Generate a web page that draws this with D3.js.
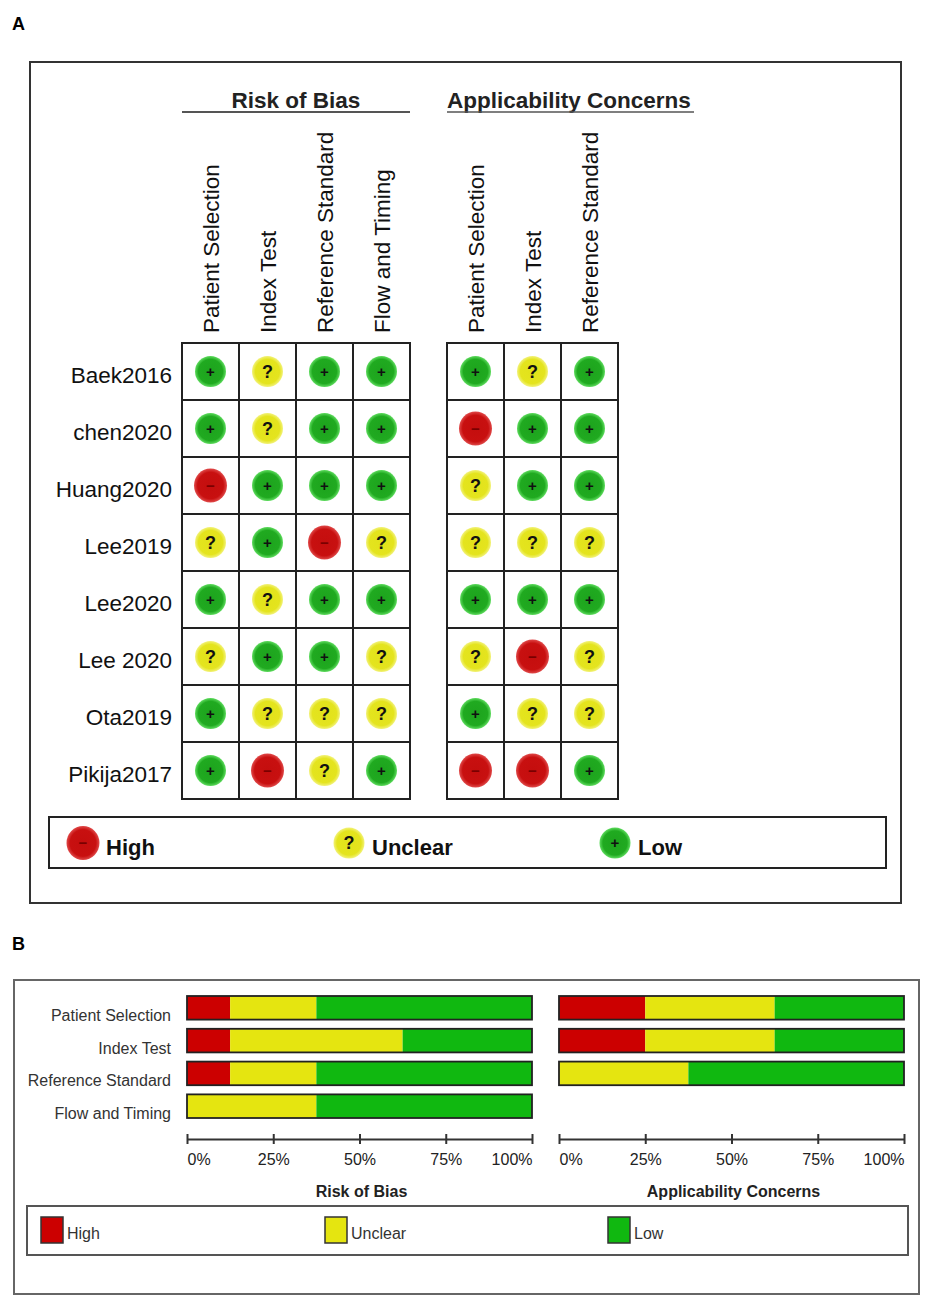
<!DOCTYPE html>
<html>
<head>
<meta charset="utf-8">
<script src="https://cdn.jsdelivr.net/npm/d3@7"></script>
<style>
  body { margin: 0; background: #fff; }
  svg { display: block; font-family: "Liberation Sans", Arial, sans-serif; }
</style>
</head>
<body>
<div id="chart"></div>
<script>
// studies and domains
var studies = ['Baek2016', 'chen2020', 'Huang2020', 'Lee2019', 'Lee2020', 'Lee 2020', 'Ota2019', 'Pikija2017'];
var robDomains = ['Patient Selection', 'Index Test', 'Reference Standard', 'Flow and Timing'];
var acDomains = ['Patient Selection', 'Index Test', 'Reference Standard'];

// judgements per study (H = high, U = unclear, L = low)
var robJudge = [
  ['L', 'U', 'L', 'L'],
  ['L', 'U', 'L', 'L'],
  ['H', 'L', 'L', 'L'],
  ['U', 'L', 'H', 'U'],
  ['L', 'U', 'L', 'L'],
  ['U', 'L', 'L', 'U'],
  ['L', 'U', 'U', 'U'],
  ['L', 'H', 'U', 'L']
];
var acJudge = [
  ['L', 'U', 'L'],
  ['H', 'L', 'L'],
  ['U', 'L', 'L'],
  ['U', 'U', 'U'],
  ['L', 'L', 'L'],
  ['U', 'H', 'U'],
  ['L', 'U', 'U'],
  ['H', 'H', 'L']
];

// summary percentages (panel B)
var robHigh = [12.5, 12.5, 12.5, 0];
var robUnclear = [25, 50, 25, 37.5];
var robLow = [62.5, 37.5, 62.5, 62.5];
var acHigh = [25, 25, 0];
var acUnclear = [37.5, 37.5, 37.5];
var acLow = [37.5, 37.5, 62.5];
var pctTicks = [0, 25, 50, 75, 100];
var levels = ['High', 'Unclear', 'Low'];

var W = 935, H = 1310;
var FONT = '"Liberation Sans", Arial, sans-serif';

var svg = d3.select('#chart').append('svg')
  .attr('width', W).attr('height', H);

// gradients for the dots
var defs = svg.append('defs');
var dotCol = {
  H: ['#c40e0e', '#c81010', '#e04a4a'],
  U: ['#e2e21a', '#e4e41e', '#f2f27a'],
  L: ['#1da31d', '#20aa20', '#5fdc5f']
};
Object.keys(dotCol).forEach(function(k){
  var g = defs.append('radialGradient').attr('id', 'dot' + k);
  g.append('stop').attr('offset', '0%').attr('stop-color', dotCol[k][0]);
  g.append('stop').attr('offset', '78%').attr('stop-color', dotCol[k][1]);
  g.append('stop').attr('offset', '100%').attr('stop-color', dotCol[k][2]);
});
var sym = { H: '\u2212', U: '?', L: '+' };

var drawDot = function(sel, k, cx, cy){
  sel.append('ellipse')
    .attr('cx', cx).attr('cy', cy)
    .attr('rx', k == 'H' ? 16.5 : 15.5)
    .attr('ry', k == 'H' ? 17 : 15.5)
    .attr('fill', 'url(#dot' + k + ')');
  sel.append('text')
    .attr('x', cx).attr('y', cy + (k == 'U' ? 6 : 5))
    .attr('text-anchor', 'middle')
    .attr('font-weight', 'bold')
    .attr('font-size', k == 'U' ? 18 : 15)
    .attr('fill', k == 'H' ? '#7a0000' : '#111')
    .text(sym[k]);
};

// ---------- Panel A ----------
svg.append('text').attr('x', 12).attr('y', 30)
  .attr('font-size', 18).attr('font-weight', 'bold').text('A');
svg.append('rect').attr('x', 30).attr('y', 62).attr('width', 871).attr('height', 841)
  .attr('fill', 'none').attr('stroke', '#333').attr('stroke-width', 2);

var yRow = d3.scaleBand().domain(studies).range([343, 799]);
var xRob = d3.scaleBand().domain(robDomains).range([182, 410]);
var xAc = d3.scaleBand().domain(acDomains).range([447, 618]);

var gridA = function(xs, domains, judge, title, underlineLine){
  var g = svg.append('g');
  var x0 = xs.range()[0], x1 = xs.range()[1];
  var cx = (x0 + x1) / 2;
  if(underlineLine){
    g.append('text').attr('x', cx).attr('y', 108)
      .attr('text-anchor', 'middle').attr('font-size', 22.5).attr('font-weight', 'bold')
      .attr('fill', '#222').text(title);
    g.append('line').attr('x1', x0).attr('x2', x1).attr('y1', 112).attr('y2', 112)
      .attr('stroke', '#555').attr('stroke-width', 2);
  } else {
    var t = g.append('text').attr('x', x0).attr('y', 108)
      .attr('font-size', 22.5).attr('font-weight', 'bold')
      .attr('fill', '#222').text(title);
    g.append('line').attr('x1', x0).attr('x2', x0 + 247).attr('y1', 112).attr('y2', 112)
      .attr('stroke', '#555').attr('stroke-width', 1.6);
  }
  // column headers
  g.selectAll('.colh').data(domains).enter().append('text')
    .attr('transform', function(d){
      return 'translate(' + (xs(d) + xs.bandwidth() / 2 + 8) + ',333) rotate(-90)';
    })
    .attr('font-size', 22.5).attr('fill', '#111')
    .text(function(d){ return d; });
  // dots
  studies.forEach(function(s, i){
    domains.forEach(function(d, j){
      drawDot(g, judge[i][j], xs(d) + xs.bandwidth() / 2, yRow(s) + yRow.bandwidth() / 2);
    });
  });
  // grid lines
  var yr = yRow.range();
  var vx = domains.map(function(d){ return xs(d); }).concat([x1]);
  g.selectAll('.vl').data(vx).enter().append('line')
    .attr('x1', function(d){ return d; }).attr('x2', function(d){ return d; })
    .attr('y1', yr[0]).attr('y2', yr[1])
    .attr('stroke', '#222').attr('stroke-width', 2);
  var hy = studies.map(function(s){ return yRow(s); }).concat([yr[1]]);
  g.selectAll('.hl').data(hy).enter().append('line')
    .attr('x1', x0 - 1).attr('x2', x1 + 1)
    .attr('y1', function(d){ return d; }).attr('y2', function(d){ return d; })
    .attr('stroke', '#222').attr('stroke-width', 2);
};
gridA(xRob, robDomains, robJudge, 'Risk of Bias', true);
gridA(xAc, acDomains, acJudge, 'Applicability Concerns', false);

// row labels
svg.selectAll('.rowl').data(studies).enter().append('text')
  .attr('x', 172)
  .attr('y', function(d){ return yRow(d) + yRow.bandwidth() / 2 + 11; })
  .attr('text-anchor', 'end').attr('font-size', 22.5).attr('fill', '#111')
  .text(function(d){ return d; });

// legend A
svg.append('rect').attr('x', 49).attr('y', 817).attr('width', 837).attr('height', 51)
  .attr('fill', 'none').attr('stroke', '#222').attr('stroke-width', 2);
var legA = [['H', 83, 'High'], ['U', 349, 'Unclear'], ['L', 615, 'Low']];
legA.forEach(function(l){
  drawDot(svg, l[0], l[1], 843);
  svg.append('text').attr('x', l[1] + 23).attr('y', 855)
    .attr('font-size', 22).attr('font-weight', 'bold').attr('fill', '#111').text(l[2]);
});

// ---------- Panel B ----------
svg.append('text').attr('x', 12).attr('y', 950)
  .attr('font-size', 18).attr('font-weight', 'bold').text('B');
svg.append('rect').attr('x', 14).attr('y', 980).attr('width', 905).attr('height', 314)
  .attr('fill', 'none').attr('stroke', '#666').attr('stroke-width', 2);

var barCol = { High: '#cc0000', Unclear: '#e5e510', Low: '#10b810' };

var summary = function(domains, hi, un, lo, xr, title){
  var rows = domains.map(function(d, i){
    return { domain: d, High: hi[i], Unclear: un[i], Low: lo[i] };
  });
  var x = d3.scaleLinear().domain([0, 100]).range(xr);
  var y = d3.scaleBand().domain(robDomains).range([996, 1118]).paddingInner(0.28).paddingOuter(0);
  var stack = d3.stack().keys(levels)(rows);
  var g = svg.append('g');
  g.selectAll('.layer').data(stack).enter().append('g')
    .attr('fill', function(d){ return barCol[d.key]; })
    .selectAll('rect').data(function(d){ return d; }).enter().append('rect')
      .attr('x', function(d){ return x(d[0]); })
      .attr('width', function(d){ return x(d[1]) - x(d[0]); })
      .attr('y', function(d){ return y(d.data.domain); })
      .attr('height', y.bandwidth());
  g.selectAll('.outline').data(rows).enter().append('rect')
    .attr('x', x(0)).attr('width', x(100) - x(0))
    .attr('y', function(d){ return y(d.domain); })
    .attr('height', y.bandwidth())
    .attr('fill', 'none').attr('stroke', '#222').attr('stroke-width', 1.8);

  var ax = g.append('g').attr('transform', 'translate(0,1139)')
    .call(d3.axisBottom(x).tickValues(pctTicks).tickSize(5).tickSizeOuter(0)
      .tickFormat(function(d){ return d + '%'; }));
  ax.select('.domain').attr('stroke', '#333').attr('stroke-width', 2);
  ax.selectAll('.tick line').attr('y1', -5).attr('y2', 5).attr('stroke', '#333').attr('stroke-width', 2);
  ax.selectAll('.tick text')
    .attr('y', 26).attr('dy', null)
    .attr('font-family', FONT).attr('font-size', 16).attr('fill', '#222')
    .attr('text-anchor', function(d){ return d == 0 ? 'start' : (d == 100 ? 'end' : 'middle'); });
  g.append('text').attr('x', x(50) + 2).attr('y', 1197)
    .attr('text-anchor', 'middle').attr('font-size', 16).attr('font-weight', 'bold')
    .attr('fill', '#222').text(title);
  return y;
};
var yB = summary(robDomains, robHigh, robUnclear, robLow, [187, 532], 'Risk of Bias');
summary(acDomains, acHigh, acUnclear, acLow, [559, 904], 'Applicability Concerns');

svg.selectAll('.bl').data(robDomains).enter().append('text')
  .attr('x', 171)
  .attr('y', function(d){ return yB(d) + yB.bandwidth() / 2 + 13; })
  .attr('text-anchor', 'end').attr('font-size', 16).attr('fill', '#333')
  .text(function(d){ return d; });

// legend B
svg.append('rect').attr('x', 27).attr('y', 1206).attr('width', 881).attr('height', 49)
  .attr('fill', 'none').attr('stroke', '#555').attr('stroke-width', 2);
var legB = [['High', 41], ['Unclear', 325], ['Low', 608]];
legB.forEach(function(l){
  svg.append('rect').attr('x', l[1]).attr('y', 1217).attr('width', 22).attr('height', 26)
    .attr('fill', barCol[l[0]]).attr('stroke', '#333').attr('stroke-width', 1.5);
  svg.append('text').attr('x', l[1] + 26).attr('y', 1239)
    .attr('font-size', 16).attr('fill', '#333').text(l[0]);
});
</script>
</body>
</html>
